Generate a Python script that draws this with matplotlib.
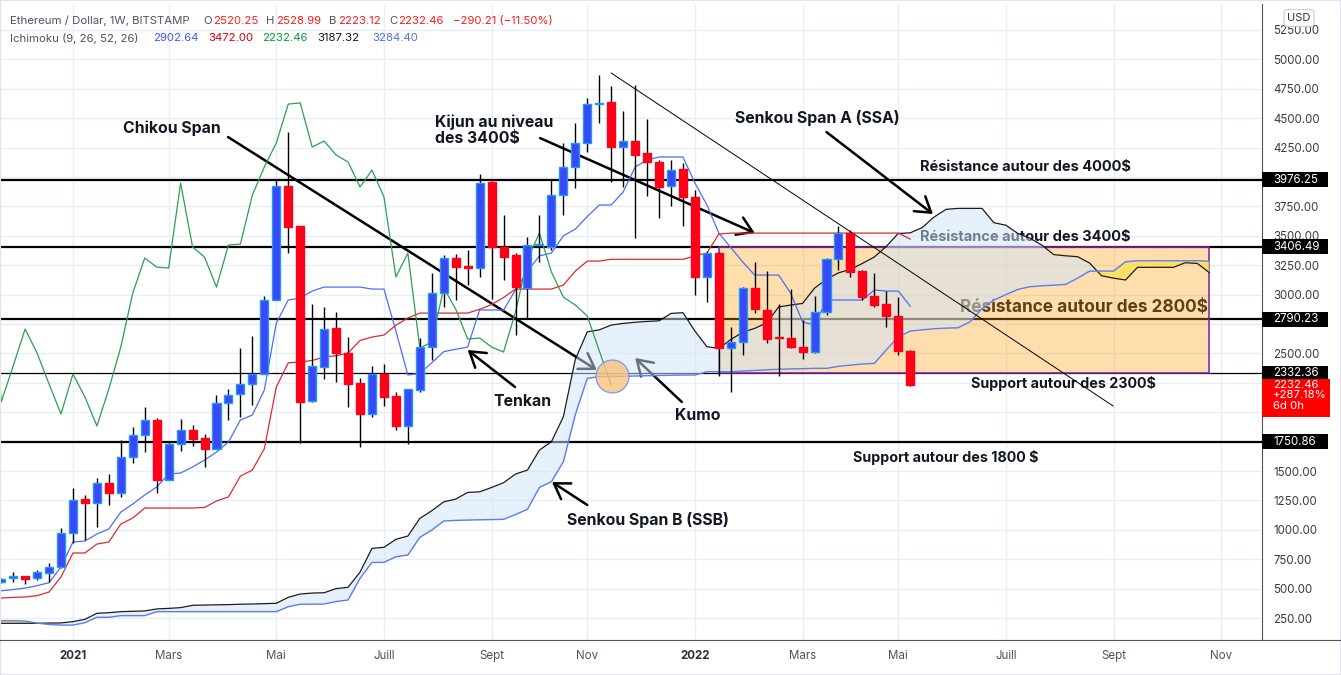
import matplotlib
matplotlib.use("Agg")
import matplotlib.pyplot as plt
import matplotlib.dates as mdates
import numpy as np
import pandas as pd
from matplotlib.patches import Rectangle
from matplotlib.lines import Line2D

plt.rcParams['font.family'] = ['Inter', 'DejaVu Sans']

# weekly candles, ETH/USD Bitstamp
weeks = pd.date_range("2020-11-23", periods=77, freq="7D")
opens = [560, 590, 607, 590, 633, 684, 973, 1262, 1228, 1398,
         1313, 1619, 1806, 1934, 1423, 1730, 1849, 1780, 1687, 2078,
         2155, 2240, 2325, 2954, 3923, 3583, 2095, 2384, 2716, 2503,
         2248, 1985, 2325, 2138, 1883, 2189, 2554, 3013, 3311, 3243,
         3226, 3957, 3405, 3336, 3056, 3421, 3405, 3847, 4085, 4289,
         4620, 4637, 4255, 4306, 4204, 4127, 3923, 4068, 3830, 3150,
         3353, 2546, 2597, 3056, 2869, 2639, 2631, 2554, 2512, 2852,
         3302, 3523, 3200, 2988, 2920, 2818, 2520.25]
highs = [590, 641, 610, 662, 718, 1015, 1355, 1296, 1443, 1474,
         1763, 1874, 2044, 1950, 1755, 1942, 1892, 1815, 2146, 2197,
         2546, 2648, 2988, 3974, 4382, 3583, 2920, 2894, 2852, 2639,
         2291, 2393, 2410, 2172, 2200, 2631, 3183, 3336, 3345, 3379,
         4025, 3970, 3677, 3353, 3489, 3677, 3974, 4289, 4459, 4672,
         4867, 4773, 4561, 4782, 4493, 4144, 4144, 4119, 3889, 3370,
         3360, 2724, 3064, 3277, 3200, 2920, 3047, 2784, 2988, 3310,
         3583, 3549, 3209, 3183, 3030, 2979, 2528.99]
lows = [545, 556, 539, 573, 560, 675, 888, 913, 1024, 1211,
        1279, 1568, 1661, 1313, 1423, 1670, 1713, 1534, 1687, 1934,
        1959, 2061, 2325, 2954, 3353, 1738, 2087, 2282, 2257, 2044,
        1704, 1959, 2053, 1849, 1730, 2172, 2444, 2894, 2954, 3081,
        3149, 2962, 3124, 2656, 2801, 3277, 3379, 3677, 3906, 4212,
        4459, 3957, 3915, 3481, 3838, 3651, 3753, 3583, 2996, 2937,
        2308, 2172, 2486, 2843, 2588, 2308, 2546, 2452, 2503, 2830,
        3209, 3149, 2954, 2894, 2724, 2486, 2223.12]
closes = [578, 607, 585, 640, 684, 973, 1253, 1228, 1398, 1313,
          1619, 1806, 1934, 1423, 1730, 1849, 1772, 1687, 2078, 2146,
          2240, 2325, 2954, 3923, 3575, 2087, 2393, 2707, 2503, 2240,
          1985, 2325, 2129, 1883, 2197, 2554, 3013, 3311, 3234, 3226,
          3949, 3405, 3319, 3064, 3421, 3430, 3847, 4085, 4289, 4620,
          4630, 4255, 4306, 4187, 4127, 3915, 4059, 3830, 3150, 3353,
          2546, 2597, 3056, 2877, 2622, 2631, 2554, 2512, 2852, 3302,
          3523, 3192, 2979, 2911, 2818, 2522.67, 2232.46]

# Ichimoku (9, 26, 52, 26)
tenkan = [482, 492, 505, 525, 550, 684,
          896, 905, 964, 1007, 1151, 1219, 1296, 1364, 1474, 1483,
          1534, 1593, 1661, 1746, 1934, 1976, 2189, 2758, 2954, 2971,
          3030, 3064, 3064, 3064, 3064, 3047, 3047, 2690, 2316, 2330,
          2420, 2515, 2535, 2554, 2869, 2869, 2869, 3040, 3200, 3330,
          3353, 3500, 3557, 3664, 3762, 3762, 3872, 4085, 4144, 4170,
          4170, 4170, 3949, 3762, 3523, 3400, 3277, 3166, 3166, 3166,
          3013, 2767, 2741, 2954, 2954, 2954, 2954, 3039, 3030, 3030,
          2902.64]
kijun = [420, 425, 429, 440, 471, 599,
         803, 803, 879, 896, 1049, 1100, 1185, 1185, 1185, 1185,
         1185, 1190, 1245, 1279, 1457, 1508, 1690, 2214, 2420, 2427,
         2440, 2469, 2480, 2503, 2610, 2639, 2656, 2740, 2801, 2843,
         2843, 2843, 2843, 2843, 2875, 2915, 2975, 3047, 3047, 3047,
         3047, 3081, 3200, 3285, 3285, 3300, 3300, 3300, 3300, 3300,
         3300, 3300, 3330, 3353, 3515, 3523, 3523, 3523, 3523, 3523,
         3523, 3523, 3523, 3523, 3523, 3523, 3523, 3523, 3523, 3523,
         3472.00]
cloud_weeks = pd.date_range("2020-11-23", periods=102, freq="7D")
ssa = [205, 205, 205, 205, 207, 208,
       219, 239, 290, 295, 304, 307, 310, 327, 332, 338,
       358, 360, 362, 364, 367, 369, 372, 375, 426, 454,
       462, 465, 500, 511, 640, 842, 851, 919, 947, 1097,
       1162, 1238, 1261, 1318, 1323, 1360, 1400, 1474, 1508, 1678,
       1749, 1961, 2450, 2684, 2700, 2741, 2755, 2765, 2772, 2777,
       2840, 2846, 2690, 2557, 2543, 2618, 2680, 2713, 2760, 2895,
       2911, 2925, 3055, 3130, 3185, 3215, 3265, 3320, 3410, 3520,
       3525, 3570, 3660, 3725, 3733, 3733, 3733, 3611, 3590, 3520,
       3480, 3421, 3340, 3330, 3322, 3268, 3160, 3140, 3124, 3232,
       3232, 3232, 3232, 3271, 3265, 3187.32]
ssb = [227, 227, 224, 207, 195, 190,
       190, 210, 256, 256, 270, 270, 270, 304, 304, 304,
       304, 304, 304, 304, 304, 304, 304, 304, 346, 367,
       368, 369, 390, 403, 587, 723, 723, 771, 786, 936,
       998, 1075, 1080, 1083, 1085, 1087, 1089, 1130, 1174, 1361,
       1409, 1579, 1980, 2288, 2302, 2304, 2305, 2308, 2310, 2312,
       2314, 2316, 2316, 2344, 2344, 2344, 2350, 2355, 2360, 2365,
       2368, 2370, 2373, 2373, 2390, 2400, 2410, 2415, 2530, 2640,
       2690, 2700, 2710, 2715, 2718, 2769, 2880, 2954, 3000, 3044,
       3067, 3075, 3080, 3087, 3140, 3200, 3200, 3200, 3279, 3288,
       3288, 3288, 3288, 3288, 3288, 3284.40]

levels = [3976.25, 3406.49, 2790.23, 2332.36, 1750.86]
level_widths = [1.6, 1.6, 1.6, 0.9, 1.6]

month_ticks = pd.to_datetime(["2021-01-04", "2021-03-01", "2021-05-03", "2021-07-05",
                              "2021-09-06", "2021-11-01", "2022-01-03", "2022-03-07",
                              "2022-05-02", "2022-07-04", "2022-09-05", "2022-11-07"])
month_labels = ["2021", "Mars", "Mai", "Juill", "Sept", "Nov",
                "2022", "Mars", "Mai", "Juill", "Sept", "Nov"]

opens = np.array(opens); closes = np.array(closes)
highs = np.array(highs); lows = np.array(lows)
ssa = np.array(ssa); ssb = np.array(ssb)

base = mdates.date2num(pd.Timestamp("2021-01-04"))


def wk(i):
    # week offset from first 2021 bar -> date number
    return base + 7 * i


fig = plt.figure(figsize=(13.41, 6.75), dpi=100)
ax = fig.add_axes([0, 35 / 675, 1262 / 1341, 636 / 675])

ax.set_xlim(wk(-6.10), wk(99.41))
ax.set_ylim(63, 5471)

# grid
ax.set_yticks(np.arange(250, 5500, 250))
ax.set_xticks(month_ticks)
ax.grid(True, color='#e8eef5', lw=1, zorder=0)
ax.set_axisbelow(True)

# horizontal levels
for lv, lw in zip(levels, level_widths):
    ax.axhline(lv, color='black', lw=lw, zorder=2)

# comment texts lying under cloud / zone
lab = dict(fontweight='bold', ha='center', va='center', color='#131722', zorder=1.8)
ax.text(wk(79.6), 4085, "Résistance autour des 4000$", fontsize=10.5, **lab)
ax.text(wk(79.6), 3490, "Résistance autour des 3400$", fontsize=10.5, **lab)
ax.text(wk(84.5), 2894, "Résistance autour des 2800$", fontsize=12.4, **lab)
ax.text(wk(82.8), 2240, "Support autour des 2300$", fontsize=10.3, **lab)
ax.text(wk(73.0), 1619, "Support autour des 1800 $", fontsize=10.3, **lab)

# orange zone
ax.add_patch(Rectangle((wk(54), levels[3]), wk(95) - wk(54), levels[1] - levels[3],
                       facecolor=(1, 0.6, 0, 0.32), edgecolor='#7b1fa2', lw=1.1, zorder=3))

# arrows
arrows = [((12.96, 4340), (43.8, 2359)),
          ((39.05, 4331), (57.0, 3524)),
          ((63.0, 4382), (71.9, 3685)),
          ((36.96, 2214), (33.0, 2529)),
          ((50.9, 2087), (47.0, 2461)),
          ((43.0, 1211), (40.05, 1406))]
for (x0, y0), (x1, y1) in arrows:
    ax.annotate('', xy=(wk(x1), y1), xytext=(wk(x0), y0),
                arrowprops=dict(arrowstyle='->,head_length=0.7,head_width=0.45',
                                lw=1.8, color='black', shrinkA=0, shrinkB=0,
                                mutation_scale=15), zorder=3.2)

# kumo
ax.fill_between(cloud_weeks, ssa, ssb, where=ssa >= ssb, interpolate=True,
                color='#cfe4fb', alpha=0.5, lw=0, zorder=3.5)
ax.fill_between(cloud_weeks, ssa, ssb, where=ssa < ssb, interpolate=True,
                color='#ffe14d', alpha=0.75, lw=0, zorder=3.5)
ax.plot(cloud_weeks, ssa, color='#1c1c1c', lw=0.9, zorder=4)
ax.plot(cloud_weeks, ssb, color='#5b7cf5', lw=1.0, zorder=4)

ax.plot(weeks, tenkan, color='#4c6ef5', lw=0.9, zorder=4)
ax.plot(weeks, kijun, color='#e0282f', lw=0.9, zorder=4)
ax.plot(weeks - pd.Timedelta(weeks=25), closes, color='#2e9e4f', lw=0.9, zorder=4)

# highlighted chikou crossing
ax.scatter([wk(45.07)], [2308], s=560, color='#f9c27c', alpha=0.8,
           edgecolors='#6c8ef5', linewidths=1, zorder=4.2)

# downtrend line
ax.plot([wk(45.0), wk(86.96)], [4884, 2053], color='black', lw=0.7, zorder=4.5)

# candles
up = closes >= opens
body_lo = np.minimum(opens, closes)
body_h = np.maximum(np.abs(closes - opens), 8)
ax.vlines(weeks, lows, highs, color='black', lw=1, zorder=4.8)
ax.bar(weeks[up], body_h[up], bottom=body_lo[up], width=4.7,
       color='#3c47f7', edgecolor='#1e9cf0', lw=1, zorder=5)
ax.bar(weeks[~up], body_h[~up], bottom=body_lo[~up], width=4.7,
       color='#ff0018', edgecolor='#ff0018', lw=1, zorder=5)

# annotations
ann = dict(fontsize=11.4, fontweight='bold', color='#131722', zorder=7)
ax.text(wk(8.28), 4416, "Chikou Span", ha='center', va='center', **ann)
ax.text(wk(30.27), 4395, "Kijun au niveau\ndes 3400$", ha='left', va='center',
        linespacing=1.05, **ann)
ax.text(wk(62.2), 4501, "Senkou Span A (SSA)", ha='center', va='center', **ann)
ax.text(wk(37.6), 2087, "Tenkan", ha='center', va='center', **ann)
ax.text(wk(52.2), 1976, "Kumo", ha='center', va='center', **ann)
ax.text(wk(48.1), 1083, "Senkou Span B (SSB)", ha='center', va='center', **ann)

# axes styling
for s in ['top', 'left', 'bottom']:
    ax.spines[s].set_visible(False)
ax.spines['right'].set_color('#50535e')
ax.spines['right'].set_linewidth(0.8)
ax.yaxis.tick_right()
hidden = {4000, 2750, 2250, 2000, 1750}
ax.set_yticklabels(['' if v in hidden else f'{v:.2f}' for v in np.arange(250, 5500, 250)])
ax.tick_params(axis='y', length=0, pad=8, labelsize=8.3, labelcolor='#3b3b3b')
ax.set_xticklabels(month_labels)
ax.tick_params(axis='x', length=0, pad=7, labelsize=8.3, labelcolor='#50535e')
for t in ax.get_xticklabels():
    if t.get_text() in ('2021', '2022'):
        t.set_fontweight('bold')
        t.set_color('#2a2e39')

ytr = ax.get_yaxis_transform()
for lv in levels:
    ax.add_patch(Rectangle((1.0, lv - 64), 66 / 1262, 128, transform=ytr,
                           facecolor='black', edgecolor='none', clip_on=False, zorder=10))
    ax.text(1.0 + 11 / 1262, lv, f'{lv:.2f}', transform=ytr, ha='left', va='center',
            color='white', fontsize=8.3, clip_on=False, zorder=11)
last = closes[-1]
ax.add_patch(Rectangle((1.0, 1955), 68 / 1262, 2280 - 1955, transform=ytr,
                       facecolor='#ff0000', edgecolor='none', clip_on=False, zorder=10))
ax.text(1.0 + 11 / 1262, 2274, f'{last:.2f}\n+287.18%\n6d 0h', transform=ytr,
        ha='left', va='top', color='white', fontsize=8.2, linespacing=1.05,
        clip_on=False, zorder=11)

# USD box
fig.text(1299 / 1341, 1 - 18 / 675, "USD", ha='center', va='center', fontsize=8,
         color='#2a2e39', bbox=dict(boxstyle='round,pad=0.3', fc='white', ec='#c8cbd3', lw=0.8))


# header legend
def htext(x, y, s, c):
    fig.text(x / 1341, 1 - y / 675, s, ha='left', va='center', fontsize=8.2, color=c)


g = '#50535e'
r = '#ff1a1a'
htext(10, 21, "Ethereum / Dollar, 1W, BITSTAMP", g)
htext(203, 21, "O", g); htext(213, 21, "2520.25", r)
htext(266, 21, "H", g); htext(276, 21, "2528.99", r)
htext(329, 21, "B", g); htext(338, 21, "2223.12", r)
htext(389, 21, "C", g); htext(398, 21, "2232.46", r)
htext(453, 21, "\u2212290.21 (\u221211.50%)", r)
htext(10, 38, "Ichimoku (9, 26, 52, 26)", g)
htext(153, 38, "2902.64", '#3d5afe')
htext(208, 38, "3472.00", '#e00000')
htext(262, 38, "2232.46", '#0b9b3e')
htext(317, 38, "3187.32", '#131722')
htext(372, 38, "3284.40", '#4c6ef5')

# frame lines
fig.add_artist(Line2D([0, 1], [35 / 675, 35 / 675], color='#50535e', lw=0.8))
fig.add_artist(Rectangle((0, 0), 1, 1, transform=fig.transFigure, fill=False,
                         edgecolor='#e0e3eb', lw=1.5))

fig.savefig("out.png", dpi=100)
